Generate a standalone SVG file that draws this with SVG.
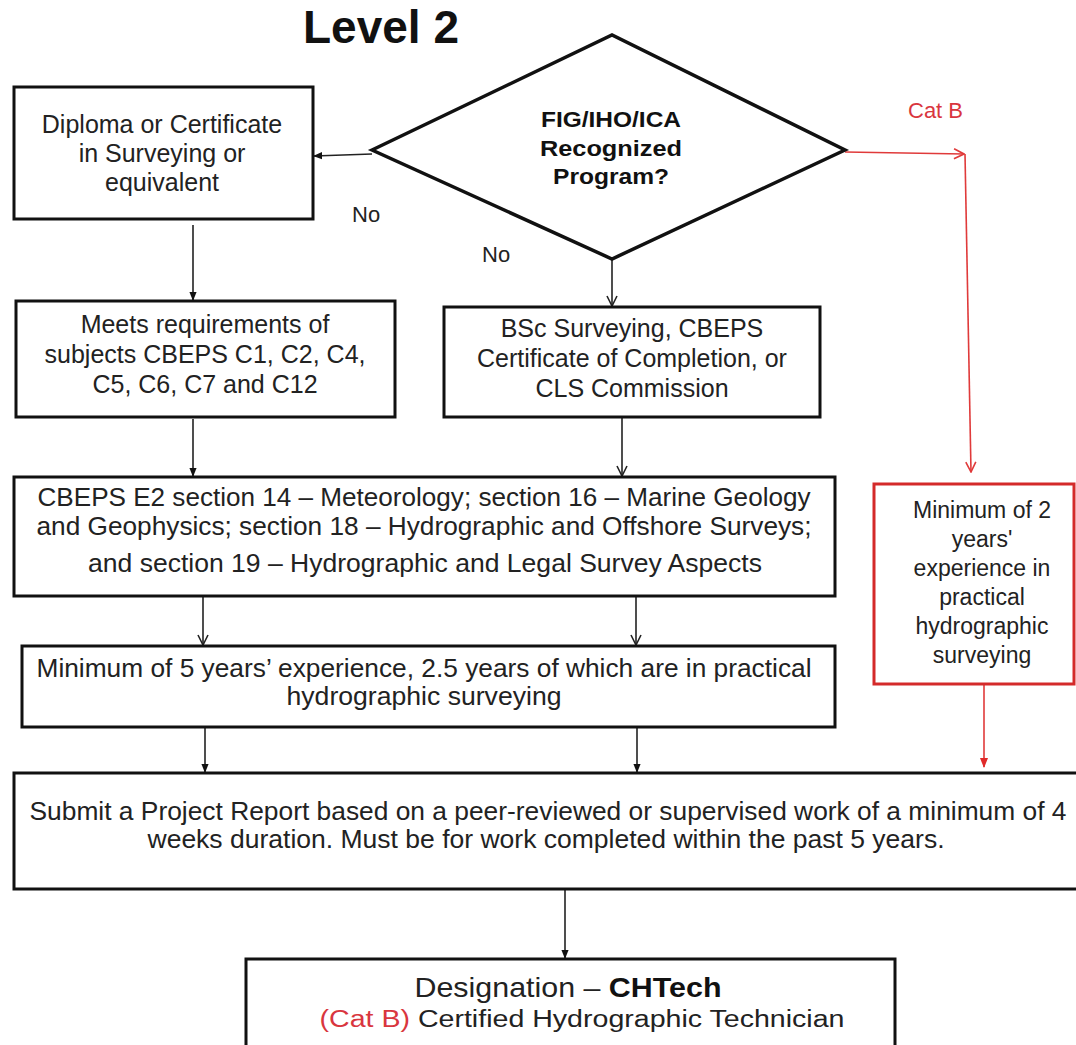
<svg xmlns="http://www.w3.org/2000/svg" width="1076" height="1045" viewBox="0 0 1076 1045">
<style>
.box{fill:#fff;stroke:#111;stroke-width:3}
.rbox{fill:#fff;stroke:#d42a2a;stroke-width:3}
.t{font-family:"Liberation Sans",Arial,sans-serif;font-size:25px;fill:#222;text-anchor:middle}
.tb{font-family:"Liberation Sans",Arial,sans-serif;font-size:22px;font-weight:bold;fill:#111;text-anchor:middle}
.c{stroke:#222;stroke-width:1.6;fill:none}
.r{stroke:#e03a3a;stroke-width:1.6;fill:none}
.red{fill:#d9363e}
</style>
<defs>
<marker id="open" viewBox="0 0 12 12" refX="11" refY="6" markerWidth="12" markerHeight="12" markerUnits="userSpaceOnUse" orient="auto"><path d="M1,1 L11,6 L1,11" fill="none" stroke="#222" stroke-width="1.6"/></marker>
<marker id="fill" viewBox="0 0 10 10" refX="9" refY="5" markerWidth="9" markerHeight="9" markerUnits="userSpaceOnUse" orient="auto"><path d="M0,1 L10,5 L0,9 Z" fill="#111"/></marker>
<marker id="ropen" viewBox="0 0 12 12" refX="11" refY="6" markerWidth="12" markerHeight="12" markerUnits="userSpaceOnUse" orient="auto"><path d="M1,1 L11,6 L1,11" fill="none" stroke="#e03a3a" stroke-width="1.6"/></marker>
<marker id="rfill" viewBox="0 0 10 10" refX="9" refY="5" markerWidth="10" markerHeight="10" markerUnits="userSpaceOnUse" orient="auto"><path d="M0,1 L10,5 L0,9 Z" fill="#e02a2a"/></marker>
</defs>
<rect width="1076" height="1045" fill="#fff"/>
<text x="303" y="43" font-family="Liberation Sans,Arial,sans-serif" font-size="46" font-weight="bold" fill="#111">Level 2</text>

<g id="connectors">
<line class="c" x1="372" y1="154" x2="314" y2="156" marker-end="url(#fill)"/>
<line class="c" x1="193" y1="225" x2="193" y2="300" marker-end="url(#fill)"/>
<line class="c" x1="612" y1="259" x2="612" y2="306" marker-end="url(#open)"/>
<line class="c" x1="193" y1="419" x2="193" y2="476" marker-end="url(#fill)"/>
<line class="c" x1="622" y1="418" x2="622" y2="476" marker-end="url(#open)"/>
<line class="c" x1="203" y1="597" x2="203" y2="645" marker-end="url(#open)"/>
<line class="c" x1="636" y1="597" x2="636" y2="645" marker-end="url(#open)"/>
<line class="c" x1="205" y1="728" x2="205" y2="772" marker-end="url(#fill)"/>
<line class="c" x1="637" y1="728" x2="637" y2="772" marker-end="url(#fill)"/>
<line class="c" x1="565" y1="890" x2="565" y2="958" marker-end="url(#fill)"/>
<line class="r" x1="845" y1="152" x2="964" y2="154" marker-end="url(#ropen)"/>
<line class="r" x1="965" y1="154" x2="971" y2="472" marker-end="url(#ropen)"/>
<line class="r" x1="984" y1="685" x2="984" y2="767" marker-end="url(#rfill)"/>
<text x="352" y="222" font-family="Liberation Sans,Arial,sans-serif" font-size="22" fill="#222">No</text>
<text x="482" y="262" font-family="Liberation Sans,Arial,sans-serif" font-size="22" fill="#222">No</text>
<text x="908" y="118" font-family="Liberation Sans,Arial,sans-serif" font-size="22" class="red">Cat B</text>
</g>

<g id="decision">
<polygon points="372,150 612,35 845,150 612,259" fill="#fff" stroke="#111" stroke-width="3.5"/>
<text class="tb" x="611" y="127" textLength="140" lengthAdjust="spacingAndGlyphs">FIG/IHO/ICA</text>
<text class="tb" x="611" y="156" textLength="142" lengthAdjust="spacingAndGlyphs">Recognized</text>
<text class="tb" x="611" y="184" textLength="116" lengthAdjust="spacingAndGlyphs">Program?</text>
</g>

<g id="diploma">
<rect class="box" x="14" y="87" width="299" height="132"/>
<text class="t" x="162" y="133">Diploma or Certificate</text>
<text class="t" x="162" y="162">in Surveying or</text>
<text class="t" x="162" y="191">equivalent</text>
</g>

<g id="meets">
<rect class="box" x="16" y="301" width="379" height="116"/>
<text class="t" x="205" y="333">Meets requirements of</text>
<text class="t" x="205" y="363">subjects CBEPS C1, C2, C4,</text>
<text class="t" x="205" y="393">C5, C6, C7 and C12</text>
</g>

<g id="bsc">
<rect class="box" x="444" y="307" width="376" height="110"/>
<text class="t" x="632" y="337">BSc Surveying, CBEPS</text>
<text class="t" x="632" y="367">Certificate of Completion, or</text>
<text class="t" x="632" y="397">CLS Commission</text>
</g>

<g id="cbeps">
<rect class="box" x="14" y="477" width="821" height="119"/>
<text class="t" x="424" y="506" textLength="773" lengthAdjust="spacingAndGlyphs">CBEPS E2 section 14 – Meteorology; section 16 – Marine Geology</text>
<text class="t" x="424" y="535" textLength="775" lengthAdjust="spacingAndGlyphs">and Geophysics; section 18 – Hydrographic and Offshore Surveys;</text>
<text class="t" x="425" y="572" textLength="674" lengthAdjust="spacingAndGlyphs">and section 19 – Hydrographic and Legal Survey Aspects</text>
</g>

<g id="experience5">
<rect class="box" x="22" y="646" width="813" height="81"/>
<text class="t" x="424" y="677" textLength="775" lengthAdjust="spacingAndGlyphs">Minimum of 5 years’ experience, 2.5 years of which are in practical</text>
<text class="t" x="424" y="705" textLength="275" lengthAdjust="spacingAndGlyphs">hydrographic surveying</text>
</g>

<g id="experience2">
<rect class="rbox" x="874" y="484" width="200" height="200"/>
<g font-family="Liberation Sans,Arial,sans-serif" font-size="23" fill="#222" text-anchor="middle">
<text x="982" y="518">Minimum of 2</text>
<text x="982" y="547">years'</text>
<text x="982" y="576">experience in</text>
<text x="982" y="605">practical</text>
<text x="982" y="634">hydrographic</text>
<text x="982" y="663">surveying</text>
</g>
</g>

<g id="report">
<rect class="box" x="14" y="773" width="1070" height="116"/>
<text class="t" x="548" y="820" textLength="1037" lengthAdjust="spacingAndGlyphs">Submit a Project Report based on a peer-reviewed or supervised work of a minimum of 4</text>
<text class="t" x="546" y="848" textLength="797" lengthAdjust="spacingAndGlyphs">weeks duration. Must be for work completed within the past 5 years.</text>
</g>

<g id="designation">
<rect class="box" x="246" y="959" width="649" height="110"/>
<text x="568" y="997" font-family="Liberation Sans,Arial,sans-serif" font-size="28" fill="#222" text-anchor="middle" textLength="307" lengthAdjust="spacingAndGlyphs">Designation – <tspan font-weight="bold" fill="#111">CHTech</tspan></text>
<text x="582" y="1027" font-family="Liberation Sans,Arial,sans-serif" font-size="23" fill="#222" text-anchor="middle" textLength="525" lengthAdjust="spacingAndGlyphs"><tspan class="red">(Cat B)</tspan> Certified Hydrographic Technician</text>
</g>
</svg>
